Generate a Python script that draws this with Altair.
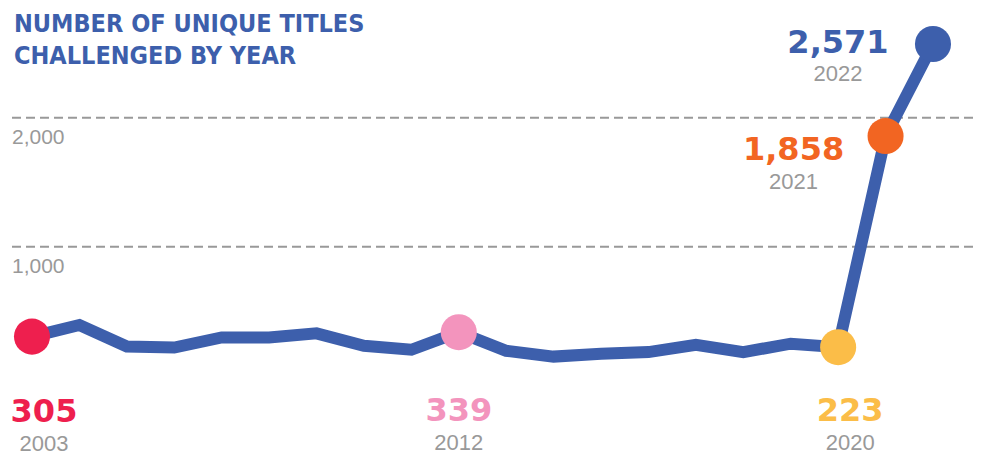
import altair as alt
import pandas as pd

years = list(range(2003, 2023))
titles = [305, 395, 228, 220, 298, 298, 330, 234, 203, 339,
          195, 150, 172, 185, 242, 185, 250, 223, 1858, 2571]
highlight_years = [2003, 2012, 2020, 2021, 2022]
highlight_colors = ["#ee1f4e", "#f394bd", "#fbbd48", "#f26522", "#3d5fac"]
grid_values = [1000, 2000]
grid_labels = ["1,000", "2,000"]
title_lines = ["NUMBER OF UNIQUE TITLES", "CHALLENGED BY YEAR"]

BLUE = "#3d5fac"
GRAY = "#999999"
W, H = 966, 447

df = pd.DataFrame({"year": years, "titles": titles})
hl = df[df["year"].isin(highlight_years)].copy()
hl["label"] = hl["titles"].map(lambda v: f"{v:,}")
hl["ylabel"] = hl["year"].astype(str)
gdf = pd.DataFrame({"value": grid_values, "label": grid_labels})
tdf = pd.DataFrame({"line": ["\n".join(title_lines)]})

xs = alt.Scale(domain=[2002.494, 2022.865], nice=False, zero=False)
ys = alt.Scale(domain=[-612, 2850], nice=False, zero=False)
X = alt.X("year:Q", scale=xs, axis=None)
Y = alt.Y("titles:Q", scale=ys, axis=None)

grid = alt.Chart(gdf).mark_rule(color=GRAY, strokeWidth=2, strokeDash=[9, 5]).encode(
    y=alt.Y("value:Q", scale=ys, axis=None), x=alt.value(4), x2=alt.value(967))
grid_text = alt.Chart(gdf).mark_text(
    align="left", baseline="alphabetic", fontSize=21, color=GRAY,
    font="Liberation Sans", dy=26).encode(
    y=alt.Y("value:Q", scale=ys, axis=None), x=alt.value(4), text="label:N")

line = alt.Chart(df).mark_line(color=BLUE, strokeWidth=12).encode(x=X, y=Y)
points = alt.Chart(hl).mark_circle(size=1300, opacity=1).encode(
    x=X, y=Y,
    color=alt.Color("year:O", scale=alt.Scale(domain=highlight_years, range=highlight_colors), legend=None))

# label offsets per highlighted year: (dx, dy value label, dy year label)
offsets = {2003: (12, 85, 114), 2012: (0, 89, 118), 2020: (12, 74, 103),
           2021: (-92, 24, 53), 2022: (-95, 9, 37)}
labels = []
for yr, col in zip(highlight_years, highlight_colors):
    dx, dyv, dyy = offsets[yr]
    base = alt.Chart(hl).transform_filter(alt.datum.year == yr)
    labels.append(base.mark_text(align="center", baseline="alphabetic", fontSize=32,
                                 fontWeight=900, font="DejaVu Sans", color=col,
                                 dx=dx, dy=dyv).encode(x=X, y=Y, text="label:N"))
    labels.append(base.mark_text(align="center", baseline="alphabetic", fontSize=22,
                                 font="Liberation Sans", color=GRAY,
                                 dx=dx, dy=dyy).encode(x=X, y=Y, text="ylabel:N"))

title = alt.Chart(tdf).mark_text(
    align="left", baseline="alphabetic", fontSize=25, fontWeight="bold",
    font="DejaVu Sans Condensed", color=BLUE, lineBreak="\n", lineHeight=32).encode(
    x=alt.value(6), y=alt.value(24), text="line:N")

chart = alt.layer(grid, grid_text, line, points, *labels, title).properties(
    width=W, height=H, padding=0, autosize="none"
).configure_view(stroke=None)

chart.save("out.html", embed_options={"renderer": "svg", "actions": False})
